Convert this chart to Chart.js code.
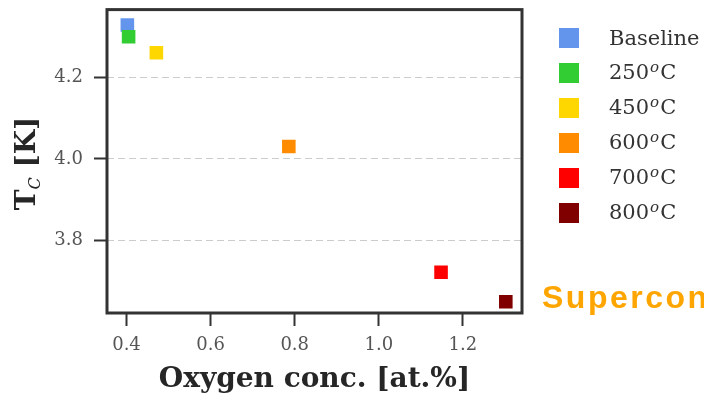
<!DOCTYPE html>
<html>
<head>
<meta charset="utf-8">
<script src="https://cdn.jsdelivr.net/npm/chart.js@4/dist/chart.umd.min.js"></script>
<style>
  html, body { margin: 0; padding: 0; background: #ffffff; }
  #wrap { position: relative; width: 704px; height: 397px; overflow: hidden; }
  #wrap canvas { position: absolute; left: 0; top: 0; }
  #legend { position: absolute; left: 559px; top: 28px; font-family: "DejaVu Serif", serif; font-size: 21px; color: #333333; }
  .row { display: flex; align-items: center; height: 20px; margin-bottom: 15px; }
  .swatch { width: 20px; height: 20px; flex: none; }
  .label { margin-left: 30px; line-height: 20px; white-space: nowrap; }
  .deg { font-size: 15px; font-style: italic; position: relative; top: -7px; margin: 0 1px; }
</style>
</head>
<body>
<div id="wrap">
  <canvas id="chart" width="704" height="397"></canvas>
  <div id="legend"></div>
</div>
<script>
// Annealing series: oxygen concentration vs. critical temperature
const seriesNames = ['Baseline', '250ᵒC', '450ᵒC', '600ᵒC', '700ᵒC', '800ᵒC'];
const seriesColors = ['#6495ED', '#32CD32', '#FFD700', '#FF8C00', '#FF0000', '#800000'];
const oxygenConc = [0.402, 0.405, 0.471, 0.786, 1.148, 1.302];
const tcValues = [4.328, 4.299, 4.260, 4.030, 3.722, 3.650];
const xTickValues = [0.4, 0.6, 0.8, 1.0, 1.2];
const yTickValues = [3.8, 4.0, 4.2];

const serif = '"DejaVu Serif", serif';

const datasets = seriesNames.map((name, i) => ({
  label: name,
  data: [{ x: oxygenConc[i], y: tcValues[i] }],
  backgroundColor: seriesColors[i],
  borderWidth: 0,
  pointStyle: 'rect',
  pointRadius: 9.6,
  order: seriesNames.length - i
}));

// Frame around the plot area plus axis titles
const framePlugin = {
  id: 'frameAndTitles',
  afterDraw(chart) {
    const { ctx, chartArea: a } = chart;
    ctx.save();
    ctx.strokeStyle = '#333333';
    ctx.lineWidth = 3;
    ctx.strokeRect(a.left, a.top, a.right - a.left, a.bottom - a.top);

    // x title
    ctx.fillStyle = '#262626';
    ctx.font = 'bold 28px ' + serif;
    ctx.textAlign = 'center';
    ctx.textBaseline = 'alphabetic';
    ctx.fillText('Oxygen conc. [at.%]', (a.left + a.right) / 2, 387);

    // y title: T with subscript C, then [K]
    const bold = 'bold 28px ' + serif;
    const sub = 'italic 16px ' + serif;
    ctx.font = bold; const wT = ctx.measureText('T').width;
    const wK = ctx.measureText(' [K]').width;
    ctx.font = sub; const wC = ctx.measureText('C').width;
    const total = wT + wC + wK;
    ctx.translate(35, 163.5);
    ctx.rotate(-Math.PI / 2);
    ctx.textAlign = 'left';
    let cx = -total / 2;
    ctx.font = bold; ctx.fillText('T', cx, 0); cx += wT;
    ctx.font = sub; ctx.fillText('C', cx, 5); cx += wC;
    ctx.font = bold; ctx.fillText(' [K]', cx, 0);
    ctx.restore();

    // side caption
    ctx.save();
    ctx.fillStyle = '#FFA500';
    ctx.font = 'bold 32px "Liberation Sans", Arial, sans-serif';
    ctx.letterSpacing = '2.5px';
    ctx.textAlign = 'left';
    ctx.textBaseline = 'alphabetic';
    ctx.fillText('Superconductivity', 542, 308);
    ctx.restore();
  }
};

new Chart(document.getElementById('chart'), {
  type: 'scatter',
  data: { datasets },
  options: {
    responsive: false,
    animation: false,
    events: [],
    layout: { padding: { left: 0, top: 7, right: 182, bottom: 0 } },
    plugins: { legend: { display: false }, tooltip: { enabled: false } },
    scales: {
      x: {
        type: 'linear',
        min: 0.3536,
        max: 1.3405,
        afterBuildTicks: s => { s.ticks = xTickValues.map(v => ({ value: v })); },
        afterFit: s => { s.height = 84; s.paddingLeft = 0; s.paddingRight = 0; },
        ticks: {
          font: { family: serif, size: 18 },
          color: '#555555',
          padding: 9,
          maxRotation: 0,
          callback: v => v.toFixed(1)
        },
        grid: {
          drawOnChartArea: false,
          drawTicks: true,
          tickLength: 13,
          tickWidth: 2,
          tickColor: '#333333',
          tickBorderDash: []
        },
        border: { display: false }
      },
      y: {
        type: 'linear',
        min: 3.6223,
        max: 4.3656,
        afterBuildTicks: s => { s.ticks = yTickValues.map(v => ({ value: v })); },
        afterFit: s => { s.width = 107; s.paddingTop = 0; s.paddingBottom = 0; },
        ticks: {
          font: { family: serif, size: 18 },
          color: '#555555',
          padding: 11,
          callback: v => v.toFixed(1)
        },
        grid: {
          drawOnChartArea: true,
          color: '#cccccc',
          lineWidth: 1,
          tickLength: 13,
          tickWidth: 2,
          tickColor: '#333333',
          tickBorderDash: []
        },
        border: { display: false, dash: [7, 4] }
      }
    }
  },
  plugins: [framePlugin]
});

// Legend built from the same series lists; the raised o is set as a superscript
const legend = document.getElementById('legend');
seriesNames.forEach((name, i) => {
  const row = document.createElement('div');
  row.className = 'row';
  const sw = document.createElement('div');
  sw.className = 'swatch';
  sw.style.background = seriesColors[i];
  const lb = document.createElement('div');
  lb.className = 'label';
  const parts = name.split('ᵒ');
  lb.appendChild(document.createTextNode(parts[0]));
  if (parts.length > 1) {
    const d = document.createElement('span');
    d.className = 'deg';
    d.textContent = 'o';
    lb.appendChild(d);
    lb.appendChild(document.createTextNode(parts[1]));
  }
  row.appendChild(sw);
  row.appendChild(lb);
  legend.appendChild(row);
});
</script>
</body>
</html>
